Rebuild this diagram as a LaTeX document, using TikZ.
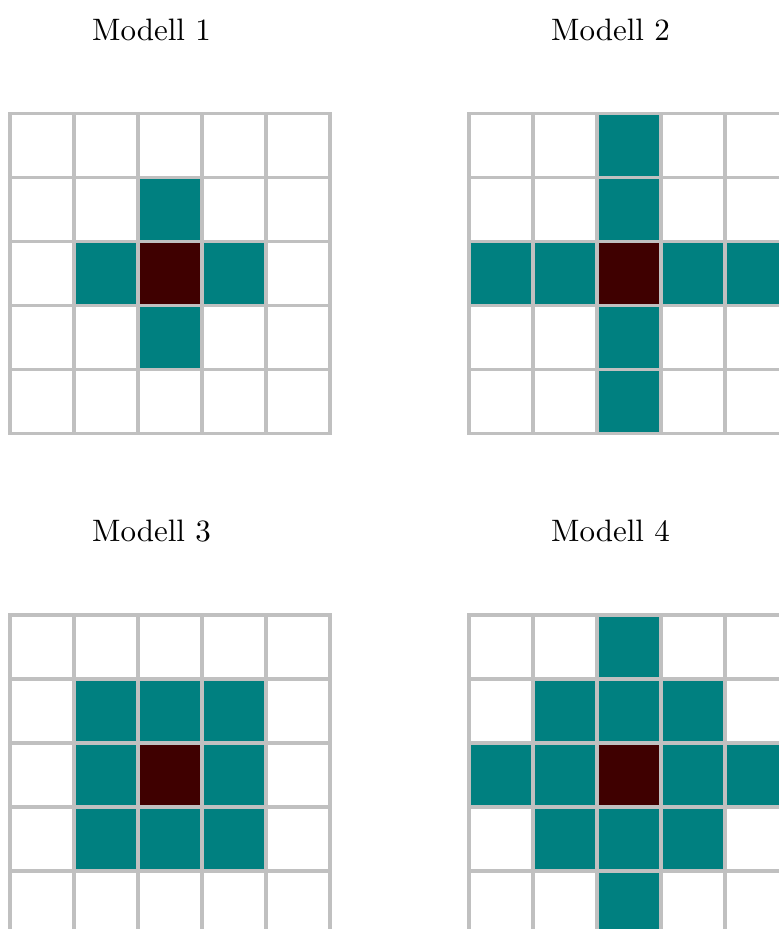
\documentclass[tikz,border=0pt]{standalone}
\definecolor{tealc}{HTML}{008080}
\definecolor{darkc}{HTML}{3F0000}
\definecolor{gridc}{HTML}{C0C0C0}
\tikzset{
  cellfill/.style={fill=tealc},
  centerfill/.style={fill=darkc},
  gridline/.style={draw=gridc,line width=1.25pt,line cap=rect},
  title/.style={anchor=base,inner sep=0pt,font=\fontsize{10}{12}\selectfont}
}
\newcommand\modelgrid[3]{%
  \begin{scope}[shift={(#1,#2)}]
    \foreach \i/\j in {#3} {\fill[cellfill] (64*\i,64*\j) rectangle ++(64,64);}
    \fill[centerfill] (128,128) rectangle ++(64,64);
    \foreach \k in {0,...,5} {
      \draw[gridline] (64*\k,0) -- (64*\k,320);
      \draw[gridline] (0,64*\k) -- (320,64*\k);
    }
  \end{scope}}
\begin{document}
\begin{tikzpicture}[x=0.3226pt,y=-0.3226pt]
\useasboundingbox (0,0) rectangle (779,929);
\clip (0,0) rectangle (779,929);
\fill[white] (0,0) rectangle (779,929);
\node[title] (t1) at (151.5,40) {Modell 1};
\node[title] (t2) at (610.5,40) {Modell 2};
\node[title] (t3) at (151.5,541.5) {Modell 3};
\node[title] (t4) at (610.5,541.5) {Modell 4};
\modelgrid{10}{113.5}{2/1,1/2,3/2,2/3}
\modelgrid{469}{113.5}{2/0,2/1,0/2,1/2,3/2,4/2,2/3,2/4}
\modelgrid{10}{615}{1/1,2/1,3/1,1/2,3/2,1/3,2/3,3/3}
\modelgrid{469}{615}{2/0,1/1,2/1,3/1,0/2,1/2,3/2,4/2,1/3,2/3,3/3,2/4}
\end{tikzpicture}
\end{document}
